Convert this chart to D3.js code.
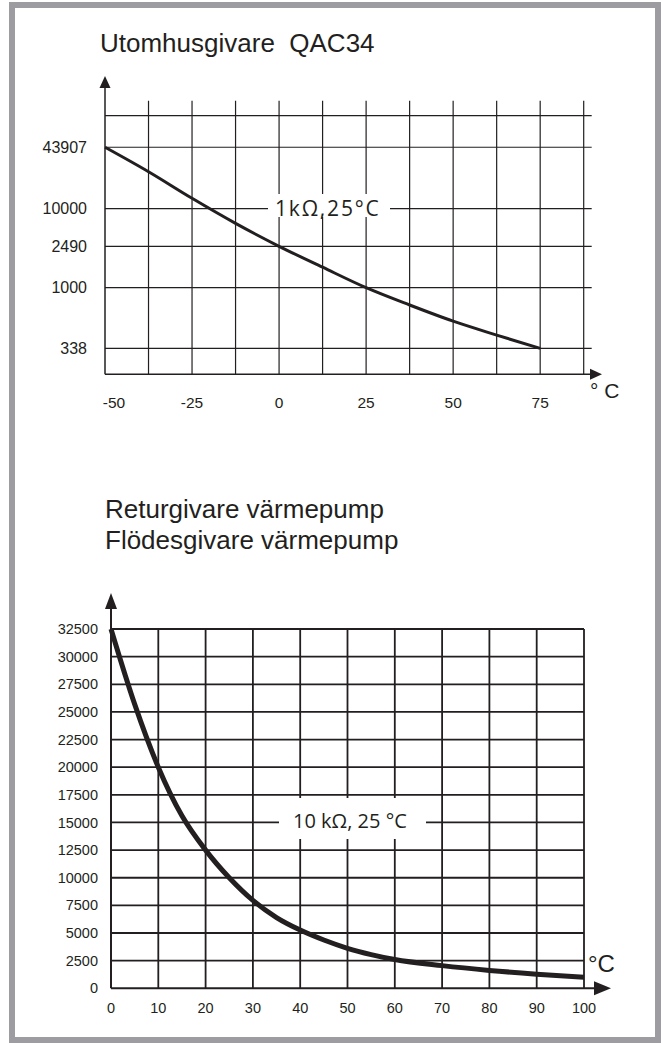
<!DOCTYPE html>
<html>
<head>
<meta charset="utf-8">
<title>Givarkurvor</title>
<script src="https://d3js.org/d3.v7.min.js"></script>
<style>
  body { margin: 0; background: #fff; }
  svg { display: block; }
  text { font-family: "Liberation Sans", Arial, sans-serif; fill: #231f20; }
  .inline-label { font-family: "Open Sans", sans-serif; }
</style>
</head>
<body>
<svg id="chart" width="661" height="1043"></svg>
<script>
// --- data: outdoor sensor QAC34 (1 kOhm @ 25 C) ---
const topTitle = "Utomhusgivare  QAC34";
const topTemps = [-50, -37.5, -25, -12.5, 0, 12.5, 25, 37.5, 50, 62.5, 75];
const topOhms  = [43907, 24300, 12800, 5790, 2490, 1570, 1000, 734, 550, 429, 338];
const topYTicks = [338, 1000, 2490, 10000, 43907];
const topXTicks = [-50, -25, 0, 25, 50, 75];
const topLabel = "1kΩ,25°C";

// --- data: return / flow sensor heat pump (10 kOhm @ 25 C) ---
const bottomTitles = ["Returgivare värmepump", "Flödesgivare värmepump"];
const bottomTemps = [0, 5, 10, 15, 20, 25, 30, 35, 40, 45, 50, 55, 60, 70, 80, 90, 100];
const bottomOhms  = [32500, 25700, 20000, 15600, 12500, 10000, 7950, 6400, 5270, 4370, 3620, 3050, 2600, 2050, 1620, 1280, 1000];
const bottomYTicks = d3.range(0, 32501, 2500);
const bottomXTicks = d3.range(0, 101, 10);
const bottomLabel = "10 kΩ, 25 °C";

const ink = "#231f20";
const svg = d3.select("#chart");

// page frame
svg.append("rect")
  .attr("x", 12).attr("y", 5).attr("width", 646).attr("height", 1035)
  .attr("fill", "#fff").attr("stroke", "#9d9da1").attr("stroke-width", 6);

// ================= top chart =================
{
  const left = 105, right = 583.7, top = 115.7, bottom = 374.3, h = bottom - top;
  const x = d3.scaleLinear().domain([-50, 87.5]).range([left, right]);
  // the printed scale is neither linear nor logarithmic: each labelled row sits at its own height
  const rowFrac = [0.1, 0.335, 0.495, 0.641, 0.878];
  const y = d3.scaleLog().domain(topYTicks).range(rowFrac.map(f => bottom - f * h));

  const g = svg.append("g");

  g.append("text").attr("x", 100).attr("y", 52)
    .style("font-size", "26px").style("white-space", "pre").text(topTitle);

  // vertical grid
  g.selectAll(".vg").data(d3.range(-37.5, 88, 12.5)).join("line")
    .attr("x1", d => x(d)).attr("x2", d => x(d))
    .attr("y1", top - 15).attr("y2", bottom)
    .attr("stroke", ink).attr("stroke-width", 1.2);

  // horizontal grid (labelled rows + top line)
  g.selectAll(".hg").data(topYTicks.map(v => y(v)).concat([top])).join("line")
    .attr("x1", left).attr("x2", right + 8)
    .attr("y1", d => d).attr("y2", d => d)
    .attr("stroke", ink).attr("stroke-width", 1.2);

  // inline label with white backing
  g.append("rect").attr("x", 268).attr("y", 194).attr("width", 122).attr("height", 23).attr("fill", "#fff");
  g.append("text").attr("class", "inline-label")
    .attr("x", 275).attr("y", y(10000)).attr("dy", "0.36em")
    .style("font-size", "21px").style("letter-spacing", "1.8px").text(topLabel);

  // curve
  g.append("path").datum(topTemps.map((t, i) => [t, topOhms[i]]))
    .attr("fill", "none").attr("stroke", ink).attr("stroke-width", 3)
    .attr("d", d3.line().x(d => x(d[0])).y(d => y(d[1])).curve(d3.curveMonotoneX));

  // axes with arrows
  g.append("line").attr("x1", left).attr("x2", left).attr("y1", bottom).attr("y2", 86)
    .attr("stroke", ink).attr("stroke-width", 1.5);
  g.append("path").attr("d", `M${left},76 L${left - 5.5},88 L${left + 5.5},88 Z`).attr("fill", ink);
  g.append("line").attr("x1", left).attr("x2", 592).attr("y1", bottom).attr("y2", bottom)
    .attr("stroke", ink).attr("stroke-width", 1.5);
  g.append("path").attr("d", `M602,${bottom} L590,${bottom - 5.5} L590,${bottom + 5.5} Z`).attr("fill", ink);

  // tick labels
  g.selectAll(".yl").data(topYTicks).join("text")
    .attr("x", 87).attr("y", d => y(d)).attr("dy", "0.35em")
    .attr("text-anchor", "end").style("font-size", "16px").text(d => d);
  g.selectAll(".xl").data(topXTicks).join("text")
    .attr("x", (d, i) => x(d) + (i === 0 ? 9 : 0)).attr("y", 408)
    .attr("text-anchor", "middle").style("font-size", "15.5px").text(d => d);
  g.append("text").attr("x", 590).attr("y", 398)
    .style("font-size", "21px").style("white-space", "pre").text("° C");
}

// ================= bottom chart =================
{
  const left = 111, right = 584, top = 629, bottom = 988.3;
  const x = d3.scaleLinear().domain([0, 100]).range([left, right]);
  const y = d3.scaleLinear().domain([0, 32500]).range([bottom, top]);

  const g = svg.append("g");

  g.selectAll(".t").data(bottomTitles).join("text")
    .attr("x", 105).attr("y", (d, i) => 518 + i * 31)
    .style("font-size", "26px").text(d => d);

  g.selectAll(".vg").data(bottomXTicks.slice(1)).join("line")
    .attr("x1", d => x(d)).attr("x2", d => x(d))
    .attr("y1", y(32500)).attr("y2", y(0))
    .attr("stroke", ink).attr("stroke-width", 1.8);
  g.selectAll(".hg").data(bottomYTicks.slice(1)).join("line")
    .attr("x1", x(0)).attr("x2", x(100))
    .attr("y1", d => y(d)).attr("y2", d => y(d))
    .attr("stroke", ink).attr("stroke-width", 1.8);

  g.append("rect").attr("x", 279).attr("y", 798).attr("width", 147).attr("height", 41).attr("fill", "#fff");
  g.append("text").attr("class", "inline-label")
    .attr("x", 293).attr("y", y(15000)).attr("dy", "0.3em")
    .style("font-size", "20px").text(bottomLabel);

  g.append("path").datum(bottomTemps.map((t, i) => [t, bottomOhms[i]]))
    .attr("fill", "none").attr("stroke", ink).attr("stroke-width", 5)
    .attr("d", d3.line().x(d => x(d[0])).y(d => y(d[1])).curve(d3.curveMonotoneX));

  g.append("line").attr("x1", left).attr("x2", left).attr("y1", bottom).attr("y2", 606)
    .attr("stroke", ink).attr("stroke-width", 2);
  g.append("path").attr("d", `M${left},593 L${left - 6},609 L${left + 6},609 Z`).attr("fill", ink);
  g.append("line").attr("x1", left).attr("x2", 596).attr("y1", bottom).attr("y2", bottom)
    .attr("stroke", ink).attr("stroke-width", 2);
  g.append("path").attr("d", `M611,${bottom} L594,${bottom - 7} L594,${bottom + 7} Z`).attr("fill", ink);

  g.selectAll(".yl").data(bottomYTicks).join("text")
    .attr("x", 98).attr("y", d => y(d)).attr("dy", "0.35em")
    .attr("text-anchor", "end").style("font-size", "14.5px").text(d => d);
  g.selectAll(".xl").data(bottomXTicks).join("text")
    .attr("x", d => x(d)).attr("y", 1013)
    .attr("text-anchor", "middle").style("font-size", "14.5px").text(d => d);
  g.append("text").attr("x", 588).attr("y", 972).style("font-size", "24px").text("°C");
}
</script>
</body>
</html>
